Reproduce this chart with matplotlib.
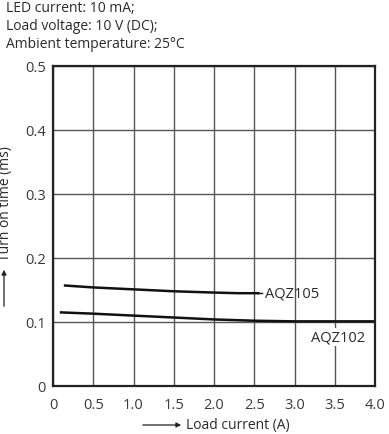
import matplotlib
matplotlib.use("Agg")
import matplotlib.pyplot as plt
import numpy as np

plt.rcParams['font.family'] = ['Open Sans', 'DejaVu Sans']

x105 = [0.15, 0.5, 1.0, 1.5, 2.0, 2.3, 2.55]
y105 = [0.157, 0.154, 0.151, 0.148, 0.146, 0.145, 0.145]
x102 = [0.1, 0.5, 1.0, 1.5, 2.0, 2.5, 3.0, 3.5, 4.0]
y102 = [0.115, 0.113, 0.110, 0.107, 0.104, 0.102, 0.101, 0.101, 0.101]

xticks = [0, 0.5, 1.0, 1.5, 2.0, 2.5, 3.0, 3.5, 4.0]
xticklabels = ['0', '0.5', '1.0', '1.5', '2.0', '2.5', '3.0', '3.5', '4.0']
yticks = [0, 0.1, 0.2, 0.3, 0.4, 0.5]
yticklabels = ['0', '0.1', '0.2', '0.3', '0.4', '0.5']

W, H = 389, 435
TXT = '#2a2a2a'
fig = plt.figure(figsize=(W/100, H/100), dpi=100)
ax = fig.add_axes([53/W, 1-387/H, (375-53)/W, (387-67)/H])
ax.set_xlim(0, 4.0)
ax.set_ylim(0, 0.5)
ax.set_xticks(xticks)
ax.set_xticklabels(xticklabels)
ax.set_yticks(yticks)
ax.set_yticklabels(yticklabels)
ax.grid(True, color='#555555', linewidth=1.0)
ax.tick_params(axis='both', length=0, labelsize=10.5, colors='#3a3a3a')
ax.tick_params(axis='x', pad=8)
ax.tick_params(axis='y', pad=5)
for s in ax.spines.values():
    s.set_linewidth(1.6)
    s.set_color('#222222')

ax.plot(x105, y105, color='#111111', linewidth=1.8)
ax.plot(x102, y102, color='#111111', linewidth=1.8)
ax.plot([2.55, 2.6], [0.145, 0.145], color='#111111', linewidth=1.0)

ax.text(2.63, 0.145, 'AQZ105', fontsize=10.5, va='center', ha='left', color=TXT)
ax.text(3.88, 0.076, 'AQZ102', fontsize=10.5, va='center', ha='right', color=TXT,
        bbox=dict(facecolor='white', edgecolor='none', pad=1))

# header
fig.text(6/W, 1-9/H, 'LED current: 10 mA;', fontsize=10, va='center', ha='left', color=TXT)
fig.text(6/W, 1-27/H, 'Load voltage: 10 V (DC);', fontsize=10, va='center', ha='left', color=TXT)
fig.text(6/W, 1-45/H, 'Ambient temperature: 25°C', fontsize=10, va='center', ha='left', color=TXT)

# x label with arrow
fig.text(186/W, 1-426/H, 'Load current (A)', fontsize=10, va='center', ha='left', color=TXT)
ax.annotate('', xy=(184/W, 1-426/H), xytext=(140/W, 1-426/H), xycoords='figure fraction',
            textcoords='figure fraction',
            arrowprops=dict(arrowstyle='-|>', color='#222222', lw=0.9, mutation_scale=7))

# y label with arrow
fig.text(6/W, 1-204/H, 'Turn on time (ms)', fontsize=10, va='center', ha='center', rotation=90, color=TXT)
ax.annotate('', xy=(4/W, 1-268/H), xytext=(4/W, 1-310/H), xycoords='figure fraction',
            textcoords='figure fraction',
            arrowprops=dict(arrowstyle='-|>', color='#222222', lw=0.9, mutation_scale=7))

fig.savefig('out.png', dpi=100)
